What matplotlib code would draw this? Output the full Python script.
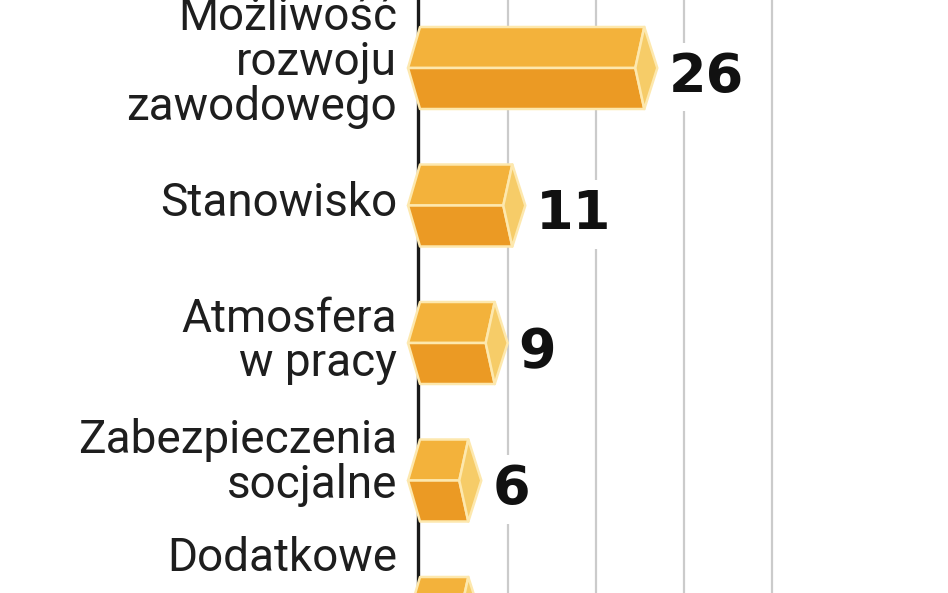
import matplotlib
matplotlib.use('Agg')
import matplotlib.pyplot as plt
from matplotlib.patches import Polygon

# kategorie i odsetki
categories = ['Możliwość\nrozwoju\nzawodowego', 'Stanowisko', 'Atmosfera\nw pracy',
              'Zabezpieczenia\nsocjalne', 'Dodatkowe']
values = [26, 11, 9, 6, 6]
grid_ticks = [10, 20, 30, 40]

# skala: piksele na jednostkę w poziomie i na wiersz w pionie
SX = 8.8
SY = 137.5
ZERO_X = 420
FIRST_Y = 68

top_col = '#f3b23b'
bottom_col = '#eb9a24'
cap_col = '#f6cc68'
edge_col = '#fde8ae'

fig = plt.figure(figsize=(9.48, 5.93), dpi=100)
ax = fig.add_axes([0, 0, 1, 1])
ax.set_xlim(-ZERO_X / SX, (948 - ZERO_X) / SX)
ax.set_ylim((593 - FIRST_Y) / SY, -FIRST_Y / SY)
ax.axis('off')

# siatka i oś
ax.vlines(grid_ticks, -1, len(values) + 1, color='#cbcbcb', lw=1.6, zorder=0)
ax.axvline(-2 / SX, color='#1a1a1a', lw=2.4, zorder=1)

h = 41 / SY
label_dy = [-6, -2, -2, -18, -60]
for i, v in enumerate(values):
    xl = -12 / SX
    corner = v - 4.5 / SX
    inner = corner - 9 / SX
    tip = corner + 13 / SX
    top = [(xl, i), (0, i - h), (corner, i - h), (inner, i)]
    bottom = [(xl, i), (inner, i), (corner, i + h), (0, i + h)]
    cap = [(inner, i), (corner, i - h), (tip, i), (corner, i + h)]
    for pts, col in ((top, top_col), (bottom, bottom_col), (cap, cap_col)):
        ax.add_patch(Polygon(pts, closed=True, fc=col, ec=edge_col, lw=1.8,
                             joinstyle='round', zorder=3))

    ax.text(tip + 11 / SX, i + 24 / SY, str(v), ha='left', va='baseline',
            fontsize=39, fontweight='bold', family='DejaVu Sans', color='#111111',
            bbox=dict(boxstyle='square,pad=0.15', fc='white', ec='none'), zorder=4)

    ax.text(-23 / SX, i + label_dy[i] / SY, categories[i], ha='right', va='center',
            fontsize=33, family='Roboto', color='#1e1e1e', linespacing=1.02, zorder=4)

fig.savefig('out.png', dpi=100)
